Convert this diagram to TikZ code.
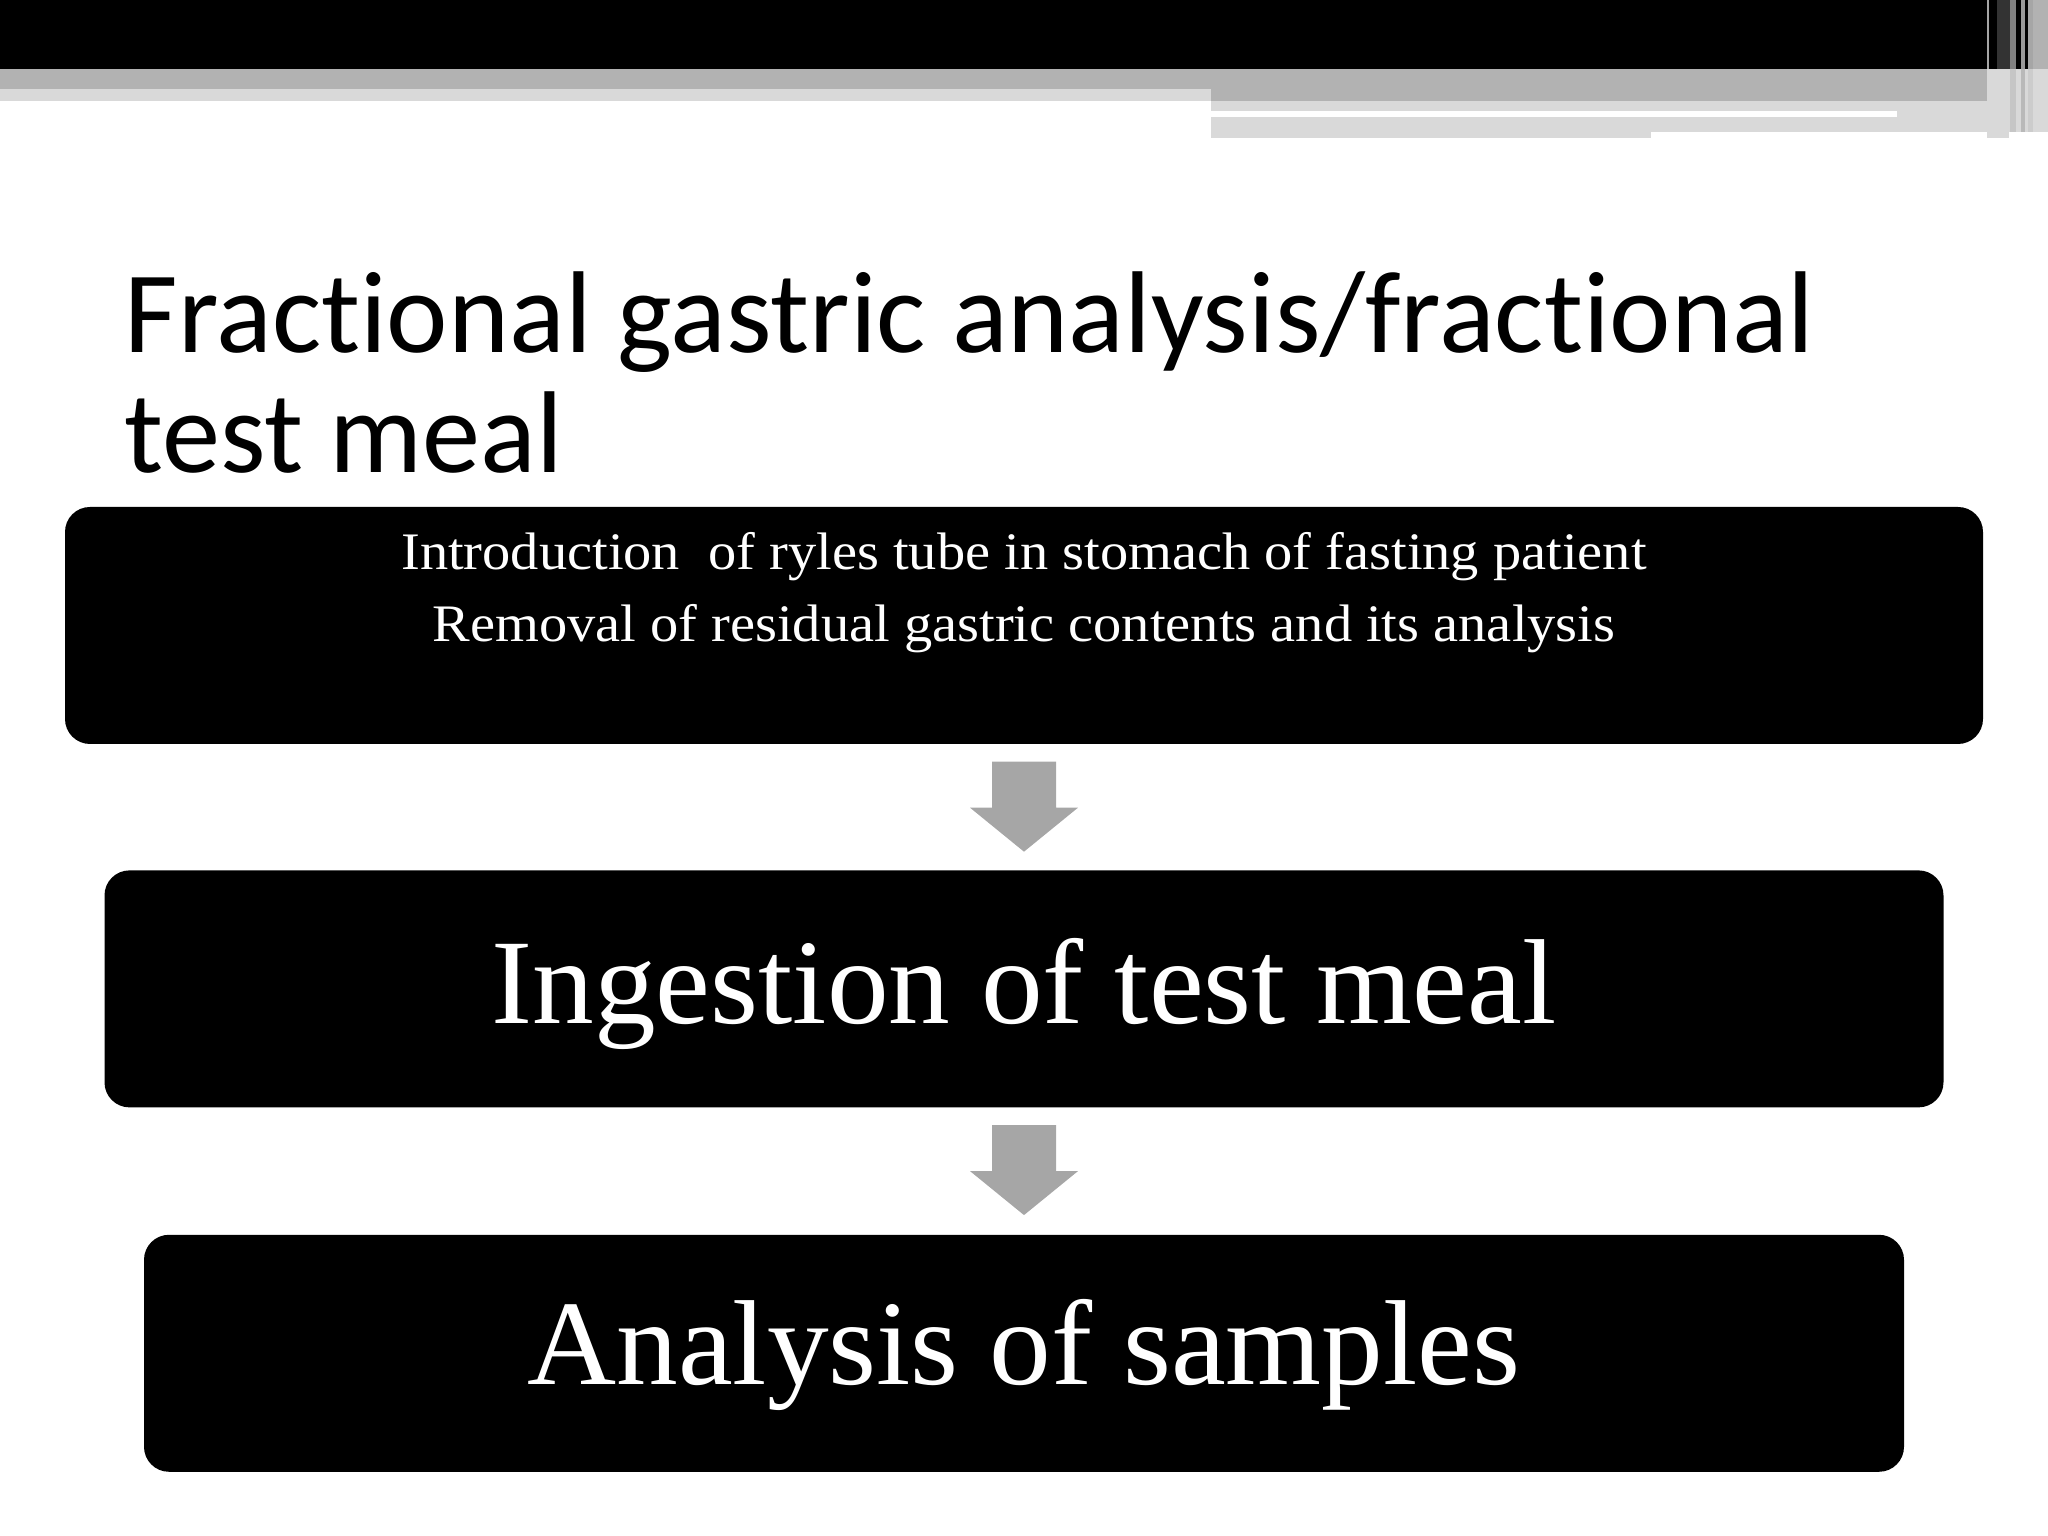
\documentclass[tikz,border=0pt]{standalone}
\usepackage{fontspec}
\usetikzlibrary{positioning,calc}
\newfontfamily\titlefont[Ligatures=NoCommon]{Carlito}
\newfontfamily\boxfont[FakeStretch=1.02]{Liberation Serif}
\newfontfamily\smallboxfont[FakeStretch=1.07]{Liberation Serif}

\definecolor{bandgray}{HTML}{B2B2B2}
\definecolor{palegray}{HTML}{D9D9D9}
\definecolor{arrowgray}{HTML}{A6A6A6}

\tikzset{
  stepbox/.style={fill=black, rounded corners=0.25cm, minimum height=2.37cm, inner sep=0pt},
  bigtext/.style={text=white, inner sep=0pt, font=\boxfont\fontsize{34.4}{40}\selectfont},
  smalltext/.style={text=white, inner sep=0pt, align=center, font=\smallboxfont\fontsize{15}{15.4}\selectfont},
}

\begin{document}
\begin{tikzpicture}
  \useasboundingbox (0,0) rectangle (20.48,15.36);

  % top bar
  \fill[black] (0,15.36) rectangle (20.48,14.67);
  \fill[bandgray] (0,14.67) rectangle (20.48,14.47);
  \fill[bandgray] (12.11,14.47) rectangle (20.48,14.35);
  \fill[palegray] (0,14.47) rectangle (12.11,14.35);
  \fill[palegray] (12.11,14.35) rectangle (19.87,14.04);
  \fill[palegray] (12.11,14.04) rectangle (16.51,13.98);
  \fill[white] (12.11,14.25) rectangle (18.97,14.19);

  % stripes on the right
  \fill[gray!70] (19.87,15.36) rectangle (19.89,14.67);
  \fill[black!80] (19.97,15.36) rectangle (20.10,14.67);
  \fill[gray] (20.10,15.36) rectangle (20.16,14.67);
  \fill[gray!80] (20.21,15.36) rectangle (20.25,14.67);
  \fill[gray!70] (20.28,15.36) rectangle (20.33,14.67);
  \fill[gray!60] (20.33,15.36) rectangle (20.48,14.67);
  \fill[palegray] (19.87,14.67) rectangle (20.48,13.98);
  \fill[gray!30] (19.87,14.67) rectangle (19.97,14.04);
  \fill[gray!45] (20.10,14.67) rectangle (20.16,13.98);
  \fill[gray!55] (20.21,14.67) rectangle (20.25,13.98);
  \fill[gray!40] (20.28,14.67) rectangle (20.33,13.98);
  \fill[white] (20.09,14.04) rectangle (20.48,13.98);

  % title
  \node[anchor=base west, inner sep=0pt, align=left,
        font=\titlefont\fontsize{33.1}{34.4}\selectfont] (Title) at (1.24,10.63)
    {Fractional gastric analysis/fractional\\test meal};

  % steps
  \node[stepbox, minimum width=19.18cm] (IntroBox) at (10.24,9.105) {};
  \node[stepbox, minimum width=18.39cm, below=1.25cm of IntroBox] (MealBox) {};
  \node[stepbox, minimum width=17.60cm, below=1.26cm of MealBox] (SampleBox) {};

  \node[smalltext, anchor=base] (IntroText) at ([yshift=-0.63cm]IntroBox.north)
    {Introduction\ \ of ryles tube in stomach of fasting patient};
  \node[smalltext, anchor=base] (ResidText) at ([yshift=-1.35cm]IntroBox.north)
    {Removal of residual gastric contents and its analysis};
  \node[bigtext, anchor=base] (MealText) at ([yshift=-0.345cm]MealBox.center)
    {Ingestion of test meal};
  \node[bigtext, anchor=base] (SampleText) at ([yshift=-0.315cm]SampleBox.center)
    {Analysis of samples};

  % arrows between the steps
  \coordinate (ArrowOneTop) at ([yshift=-0.17cm]IntroBox.south);
  \coordinate (ArrowTwoTop) at ([yshift=-0.17cm]MealBox.south);
  \fill[arrowgray] ([xshift=-0.32cm]ArrowOneTop) -- ++(0.64,0) -- ++(0,-0.46)
    -- ++(0.22,0) -- ++(-0.54,-0.44) -- ++(-0.54,0.44) -- ++(0.22,0) -- cycle;
  \fill[arrowgray] ([xshift=-0.32cm]ArrowTwoTop) -- ++(0.64,0) -- ++(0,-0.46)
    -- ++(0.22,0) -- ++(-0.54,-0.44) -- ++(-0.54,0.44) -- ++(0.22,0) -- cycle;
\end{tikzpicture}
\end{document}
